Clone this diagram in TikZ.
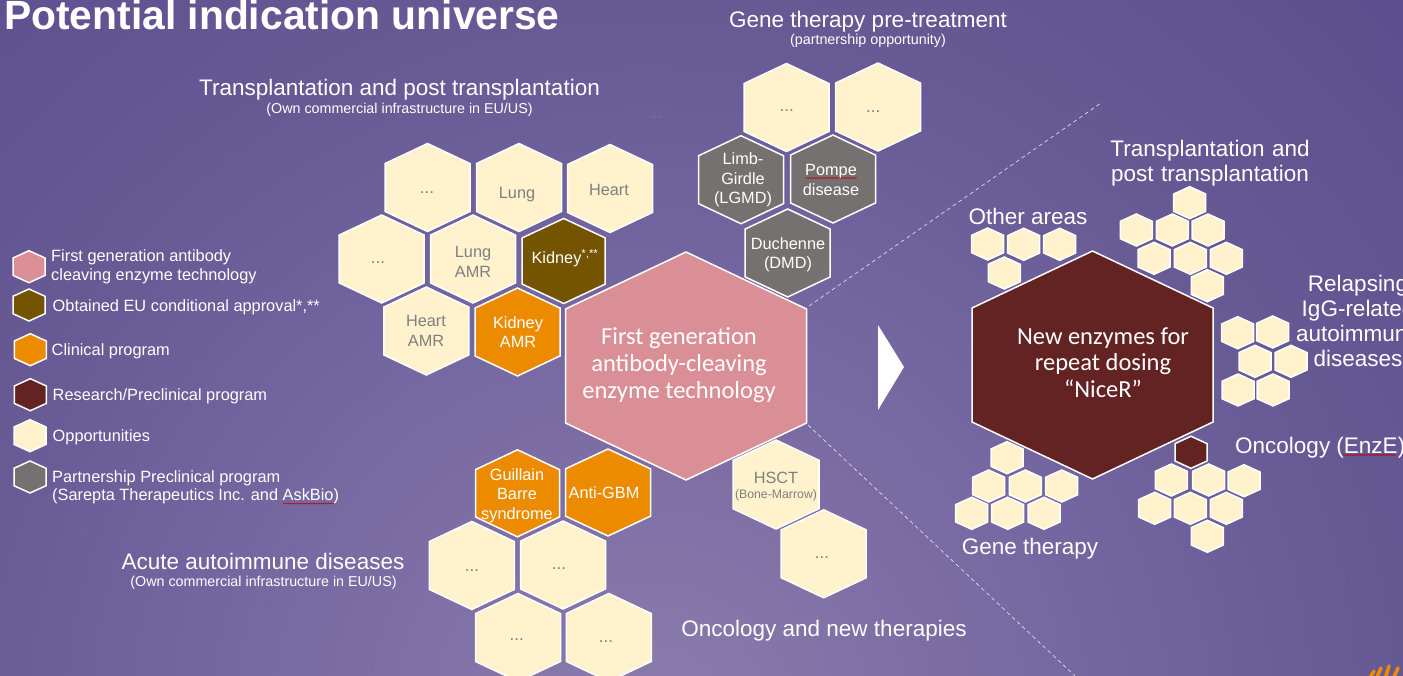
\documentclass[tikz,border=0pt]{standalone}
\usepackage{fontspec}
\setmainfont{Liberation Sans}
\newfontfamily\calfont{Carlito}
\usetikzlibrary{decorations.pathmorphing}
\definecolor{bgA}{HTML}{8B7DAC}
\definecolor{bgB}{HTML}{7466A0}
\definecolor{bgC}{HTML}{685A94}
\definecolor{bgE}{HTML}{5F5190}
\definecolor{bgD}{HTML}{504387}
\definecolor{cream}{HTML}{FFF2CC}
\definecolor{pinkh}{HTML}{D98F95}
\definecolor{brownh}{HTML}{745400}
\definecolor{orangeh}{HTML}{ED8B00}
\definecolor{darkh}{HTML}{632323}
\definecolor{grayh}{HTML}{767171}
\definecolor{greytxt}{HTML}{7F7F7F}
\pgfdeclareradialshading{bgshade}{\pgfpointorigin}{color(0bp)=(bgA); color(10.2bp)=(bgB); color(15.8bp)=(bgC); color(22.3bp)=(bgE); color(28.7bp)=(bgD); color(50bp)=(bgD)}
\tikzset{
  hexedge/.style={draw=white,line width=1.5pt,line join=miter},
  lab/.style={text=greytxt,font=\fontsize{16.3}{19.3}\selectfont,align=center,inner sep=0pt},
  labw/.style={text=white,font=\fontsize{16.3}{19.3}\selectfont,align=center,inner sep=0pt},
  dots/.style={text=greytxt,font=\fontsize{17}{17}\selectfont,inner sep=0pt,anchor=base},
  head/.style={text=white,font=\fontsize{22.5}{25}\selectfont,align=center,inner sep=0pt},
  sub/.style={text=white,font=\fontsize{14.3}{15}\selectfont,align=center,inner sep=0pt},
  legend/.style={text=white,font=\fontsize{16.35}{18.5}\selectfont,align=left,anchor=west,inner sep=0pt},
  bigt/.style={text=white,font=\calfont\fontsize{24.5}{26.7}\selectfont,align=center,inner sep=0pt},
  dashline/.style={draw=white!85!bgC,line width=0.6pt,dash pattern=on 4pt off 3pt},
  squig/.style={draw=red!75!black,line width=0.5pt,decorate,decoration={snake,amplitude=0.6pt,segment length=2.5pt}},
  logo/.style={draw=orangeh,line width=3.5pt,line cap=round}
}
% \hexa[shoulder]{cx}{cy}{w}{h}{fill}
\newcommand{\hexa}[6][0.272]{%
  \pgfmathsetmacro{\hw}{#4/2}\pgfmathsetmacro{\hh}{#5/2}\pgfmathsetmacro{\hs}{#5*#1}%
  \filldraw[hexedge,fill=#6] (#2,#3-\hh) -- (#2+\hw,#3-\hs) -- (#2+\hw,#3+\hs) -- (#2,#3+\hh) -- (#2-\hw,#3+\hs) -- (#2-\hw,#3-\hs) -- cycle;}
\newcommand{\mh}[3]{\hexa{#1}{#2}{85}{88}{#3}}
\newcommand{\sh}[3]{\hexa{#1}{#2}{32}{32}{#3}}
\begin{document}
\begin{tikzpicture}[x=1pt,y=-1pt]
\useasboundingbox (0,0) rectangle (1403,676);
\begin{scope}
\clip (0,0) rectangle (1403,676);
\shade[shading=bgshade] (650,730) circle (1100);
\draw[logo] (1369,679) -- (1374,671);
\draw[logo] (1376,679) -- (1381,668);
\draw[logo] (1385,679) -- (1389,666);
\draw[logo] (1393,679) -- (1398,668);
\end{scope}

% dashed separators
\coordinate (d1a) at (809,306); \coordinate (d1b) at (1101,103);
\coordinate (d2a) at (808,425); \coordinate (d2b) at (1075,676);
\draw[dashline] (d1a) -- (d1b);
\draw[dashline] (d2a) -- (d2b);

% title
\node[text=white,font=\bfseries\fontsize{40.8}{42}\selectfont,anchor=west,inner sep=0pt] (title) at (4,15) {Potential indication universe};

% heads
\node[head] (h1) at (399.5,90) {Transplantation and post transplantation};
\node[sub] (s1) at (399.5,110) {(Own commercial infrastructure in EU/US)};
\node[head] (h2) at (868,22) {Gene therapy pre-treatment};
\node[sub] (s2) at (868,41) {(partnership opportunity)};
\node[head] (h3) at (263,561) {Acute autoimmune diseases};
\node[sub] (s3) at (263.5,583) {(Own commercial infrastructure in EU/US)};
\node[head] (h4) at (824,631) {Oncology and new therapies};
\node[head,text width=240pt] (h5) at (1210,163) {Transplantation and\\post transplantation};
\node[head] (h6) at (1028,216) {Other areas};
\node[head] (h7) at (1030,549) {Gene therapy};
\node[head,anchor=west] (h8) at (1235,448) {Oncology (EnzE)};
\node[head,text width=140pt] (h9) at (1358,321) {Relapsing\\IgG-related\\autoimmune\\diseases};
\draw[squig] (1343,455) -- (1396,455);
\coordinate (faint) at (656,119);
\node[text=greytxt,font=\fontsize{15}{15}\selectfont,inner sep=0pt,anchor=base] at (faint) {...};

% transplantation cluster
\mh{427.5}{187.5}{cream} \node[dots] (t1) at (427,194) {...};
\mh{519}{187.5}{cream} \node[lab] (t2) at (517,195) {Lung};
\mh{610}{188.5}{cream} \node[lab] (t3) at (609,190) {Heart};
\mh{381.7}{259}{cream} \node[dots] (t4) at (378,264) {...};
\mh{473}{259}{cream} \node[lab] (t5) at (473,262) {Lung\\AMR};
\hexa{563.7}{261}{83}{85}{brownh} \node[labw] (t6) at (565,258) {Kidney\textsuperscript{*,**}};
\mh{426.3}{331}{cream} \node[lab] (t7) at (426,331) {Heart\\AMR};
\mh{517.5}{332}{orangeh} \node[labw] (t8) at (518,332) {Kidney\\AMR};

% gene therapy cluster
\mh{786.5}{107.5}{cream} \node[dots] (g1) at (786.7,112) {...};
\mh{878}{107}{cream} \node[dots] (g2) at (873.3,113) {...};
\mh{741}{179.7}{grayh} \node[labw] (g3) at (743,180) {Limb-\\Girdle\\(LGMD)};
\mh{833}{179}{grayh} \node[labw] (g4) at (831,180) {Pompe\\disease};
\mh{787.7}{253}{grayh} \node[labw] (g5) at (788,255) {Duchenne\\(DMD)};
\draw[squig] (806,178) -- (857,178);

% bottom clusters
\hexa{517.5}{493.3}{84}{87}{orangeh} \node[labw] (b1) at (517,495.5) {Guillain\\Barre\\syndrome};
\hexa{608}{492.5}{85}{87}{orangeh} \node[labw] (b2) at (604,493) {Anti-GBM};
\mh{471.8}{565.5}{cream} \node[dots] (b3) at (472,571) {...};
\mh{563}{565}{cream} \node[dots] (b4) at (559,569.7) {...};
\mh{518}{637.5}{cream} \node[dots] (b5) at (516.7,640) {...};
\mh{608.8}{637.5}{cream} \node[dots] (b6) at (606,642.7) {...};
\hexa{776}{484.5}{86}{89}{cream}
\node[lab] (b7) at (776,478) {HSCT};
\node[text=greytxt,font=\fontsize{12.3}{12}\selectfont,inner sep=0pt] (b7s) at (776,495) {(Bone-Marrow)};
\mh{823.7}{553.8}{cream} \node[dots] (b8) at (822,558.7) {...};

% central hexagons
\hexa[0.25]{686}{366}{241}{228}{pinkh}
\node[bigt] (c1) at (679,365) {First generation\\antibody-cleaving\\enzyme technology};
\hexa[0.25]{1092.5}{365}{241}{228}{darkh}
\node[bigt] (c2) at (1103,362.5) {New enzymes for\\repeat dosing\\“NiceR”};

% arrow
\fill[white] (878,325) -- (904,367) -- (878,410) -- cycle;

% small clusters
\sh{987.7}{244}{cream} \sh{1023.7}{244.3}{cream} \sh{1059.7}{244.3}{cream} \sh{1004.3}{273}{cream}
\sh{1189.7}{202.7}{cream} \sh{1136.3}{230}{cream} \sh{1172.3}{230}{cream} \sh{1208}{230}{cream}
\sh{1154}{258.3}{cream} \sh{1190.3}{258.3}{cream} \sh{1226.3}{258.3}{cream} \sh{1207.3}{285.7}{cream}
\sh{1237.7}{332.7}{cream} \sh{1272.7}{332}{cream} \sh{1255}{361.3}{cream} \sh{1291}{361.3}{cream}
\sh{1238}{390}{cream} \sh{1273}{390}{cream}
\sh{1007}{457.7}{cream} \sh{988.7}{486}{cream} \sh{1025.3}{486}{cream} \sh{1061.7}{486}{cream}
\sh{971.7}{513.3}{cream} \sh{1007.7}{513.3}{cream} \sh{1044}{513.3}{cream}
\sh{1191}{452.3}{darkh} \sh{1171.3}{480}{cream} \sh{1208.7}{480}{cream} \sh{1244}{480.7}{cream}
\sh{1154.7}{508.3}{cream} \sh{1190.3}{508.3}{cream} \sh{1226.3}{508.3}{cream} \sh{1207.3}{536.3}{cream}

% legend
\sh{29}{266.7}{pinkh} \sh{29}{305}{brownh} \sh{30.3}{349.7}{orangeh}
\sh{30.3}{394.7}{darkh} \sh{30}{435.7}{cream} \sh{30}{477}{grayh}
\node[legend] (l1) at (51,267) {First generation antibody\\cleaving enzyme technology};
\node[legend] (l2) at (52.5,307) {Obtained EU conditional approval*,**};
\node[legend] (l3) at (51.5,351) {Clinical program};
\node[legend] (l4) at (52.5,396) {Research/Preclinical program};
\node[legend] (l5) at (52.5,437.5) {Opportunities};
\node[legend] (l6) at (52,487.5) {Partnership Preclinical program\\(Sarepta Therapeutics Inc. and AskBio)};
\draw[squig] (283,503.5) -- (334,503.5);
\end{tikzpicture}
\end{document}
